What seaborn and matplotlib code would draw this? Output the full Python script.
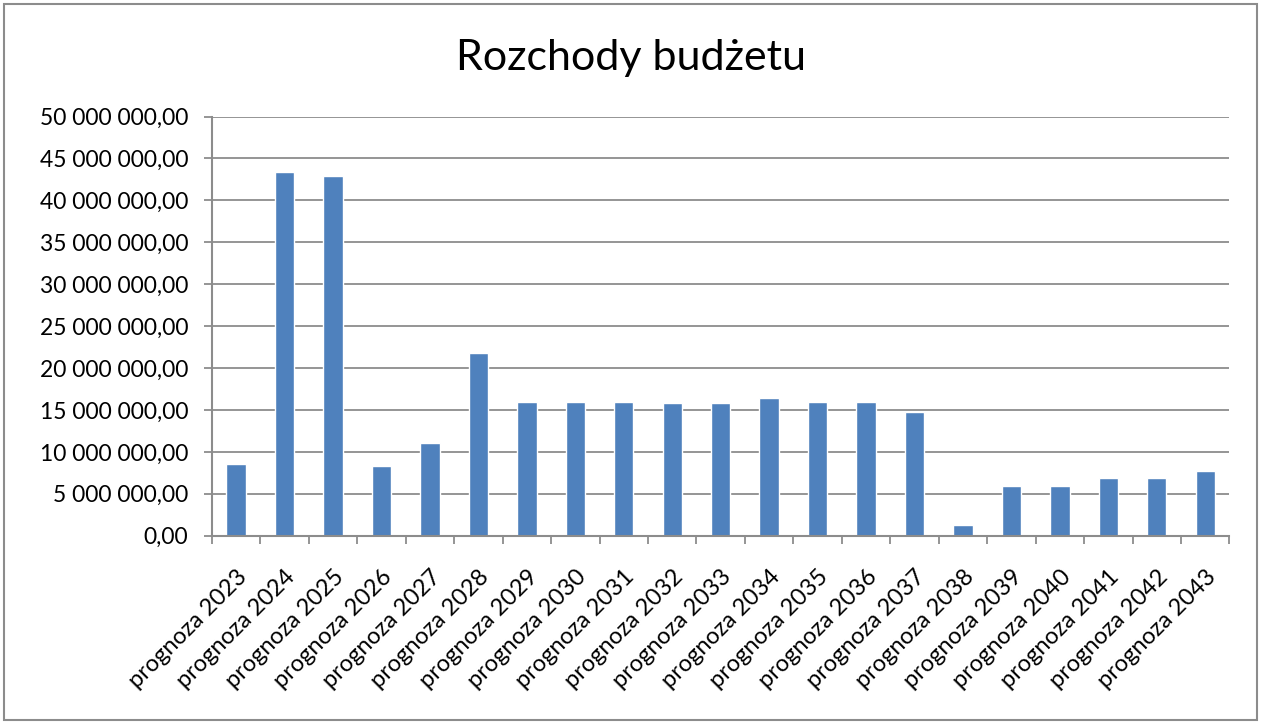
import numpy as np
import pandas as pd
import matplotlib
matplotlib.use("Agg")
import matplotlib.pyplot as plt
import seaborn as sns
from matplotlib.ticker import FuncFormatter, FixedLocator
from matplotlib.patches import Rectangle

# ── Data ────────────────────────────────────────────────────────────────────
years = list(range(2023, 2044))
categories = [f"prognoza {y}" for y in years]
expenses = [
    8.56e6, 43.37e6, 42.92e6, 8.32e6, 11.10e6, 21.84e6, 16.00e6,
    15.98e6, 15.90e6, 15.85e6, 15.85e6, 16.40e6, 15.98e6, 15.98e6,
    14.82e6, 1.32e6, 5.91e6, 5.91e6, 6.91e6, 6.91e6, 7.67e6,
]
y_ticks = np.arange(0, 50_000_001, 5_000_000)

BAR_COLOR  = "#4F81BD"
GRID_COLOR = "#8C8C8C"

df = pd.DataFrame({"kategoria": categories, "rozchody": expenses})

sns.set_theme(style="white")
plt.rcParams["font.family"] = ["Lato", "DejaVu Sans"]

fig = plt.figure(figsize=(12.61, 7.24), dpi=100)
ax = fig.add_axes([0.168, 0.260, 0.807, 0.579])

sns.barplot(data=df, x="kategoria", y="rozchody", color=BAR_COLOR,
            width=0.4, saturation=1, ax=ax)

# ── Axes styling ────────────────────────────────────────────────────────────
ax.set_ylim(0, 50_000_000)
ax.set_xlim(-0.5, len(categories) - 0.5)
ax.set_yticks(y_ticks)
ax.yaxis.set_major_formatter(
    FuncFormatter(lambda v, _: f"{v:,.2f}".replace(",", " ").replace(".", ","))
)
ax.grid(axis="y", color=GRID_COLOR, lw=1.3)
ax.set_axisbelow(True)
ax.set_xlabel("")
ax.set_ylabel("")

for side in ("top", "right"):
    ax.spines[side].set_visible(False)
for side in ("left", "bottom"):
    ax.spines[side].set_color(GRID_COLOR)
    ax.spines[side].set_linewidth(1.5)

ax.tick_params(axis="y", direction="out", length=6, width=1.3,
               color=GRID_COLOR, labelsize=16.5, labelcolor="black",
               pad=11, left=True)
ax.tick_params(axis="x", which="major", length=0, labelsize=17,
               labelcolor="black", pad=22)
ax.xaxis.set_minor_locator(FixedLocator(np.arange(-0.5, len(categories), 1.0)))
ax.tick_params(axis="x", which="minor", direction="out", length=6, width=1.3,
               color=GRID_COLOR, bottom=True)
for lbl in ax.get_xticklabels():
    lbl.set_rotation(45)
    lbl.set_ha("right")
    lbl.set_rotation_mode("anchor")

fig.text(0.5, 0.92, "Rozchody budżetu", ha="center", va="center",
         fontsize=31, color="black")

# outer chart border
fig.patches.append(Rectangle((0.003, 0.006), 0.994, 0.988, transform=fig.transFigure,
                             fill=False, edgecolor=GRID_COLOR, lw=1.5))

fig.savefig("out.png", dpi=100)
plt.close(fig)
